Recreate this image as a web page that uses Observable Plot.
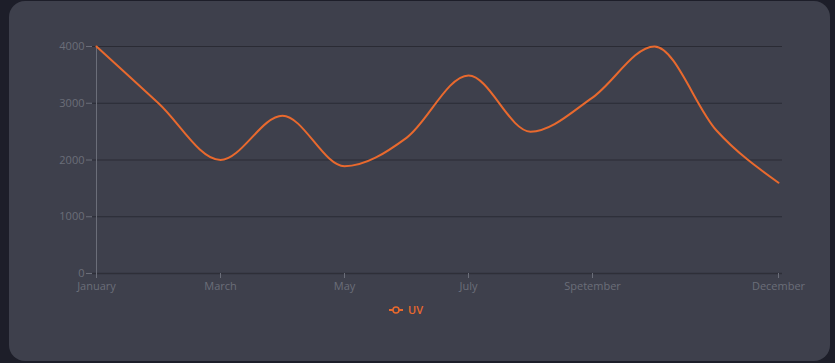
<!DOCTYPE html>
<html>
<head>
<meta charset="utf-8">
<script src="https://cdn.jsdelivr.net/npm/d3@7"></script>
<script src="https://cdn.jsdelivr.net/npm/@observablehq/plot@0.6"></script>
<style>
  html, body { margin: 0; padding: 0; }
  body { width: 835px; height: 363px; background: #1d1e29; overflow: hidden; position: relative; font-family: "Open Sans", sans-serif; }
  #card { position: absolute; left: 9px; top: 1px; width: 821px; height: 360px; border-radius: 16px; background: #3e404c; overflow: hidden; }
  #chart { position: absolute; left: 0; top: 0; }
  #legend { position: absolute; left: 380px; top: 301px; display: flex; align-items: center; gap: 5px; color: #e8692e; font-size: 11px; font-weight: 600; }
</style>
</head>
<body>
<div id="card">
  <div id="chart"></div>
  <div id="legend"></div>
</div>
<script>
const months = ["January","February","March","April","May","June","July","August","Spetember","October","November","December"];
const uv = [4000, 3000, 2000, 2780, 1890, 2390, 3490, 2500, 3100, 4000, 2520, 1600];
const xTicks = ["January","March","May","July","Spetember","December"];
const yTicks = [0, 1000, 2000, 3000, 4000];
const seriesName = "UV";

const data = months.map((m, i) => ({month: m, uv: uv[i]}));
const lineColor = "#e8692e";
const axisGrey = "#6b6e79";

const chart = Plot.plot({
  width: 821,
  height: 300,
  marginLeft: 83,
  marginRight: 48,
  marginTop: 45,
  marginBottom: 28,
  style: {background: "transparent", color: axisGrey, fontFamily: "'Open Sans', sans-serif", fontSize: "11px"},
  x: {type: "point", domain: months, padding: 0},
  y: {domain: [0, 4000]},
  marks: [
    Plot.ruleY(yTicks.filter(d => d > 0), {stroke: "#2a2b34", strokeWidth: 1.2}),
    Plot.ruleY([0], {stroke: "#2e2f38", strokeWidth: 1.5}),
    Plot.ruleX([months[0]], {stroke: axisGrey, strokeWidth: 1}),
    Plot.axisY({ticks: yTicks, tickFormat: d3.format("d"), tickSize: 6, tickPadding: 2, label: null, stroke: axisGrey}),
    Plot.axisX({ticks: xTicks, tickSize: 5, tickPadding: 4, label: null, stroke: axisGrey}),
    Plot.line(data, {x: "month", y: "uv", curve: "monotone-x", stroke: lineColor, strokeWidth: 2})
  ]
});
document.getElementById("chart").appendChild(chart);

const legend = document.getElementById("legend");
legend.innerHTML = `<svg width="14" height="10"><line x1="0" y1="5" x2="14" y2="5" stroke="${lineColor}" stroke-width="2"/><circle cx="7" cy="5" r="3" fill="#3e404c" stroke="${lineColor}" stroke-width="1.5"/></svg><span>${seriesName}</span>`;
</script>
</body>
</html>
